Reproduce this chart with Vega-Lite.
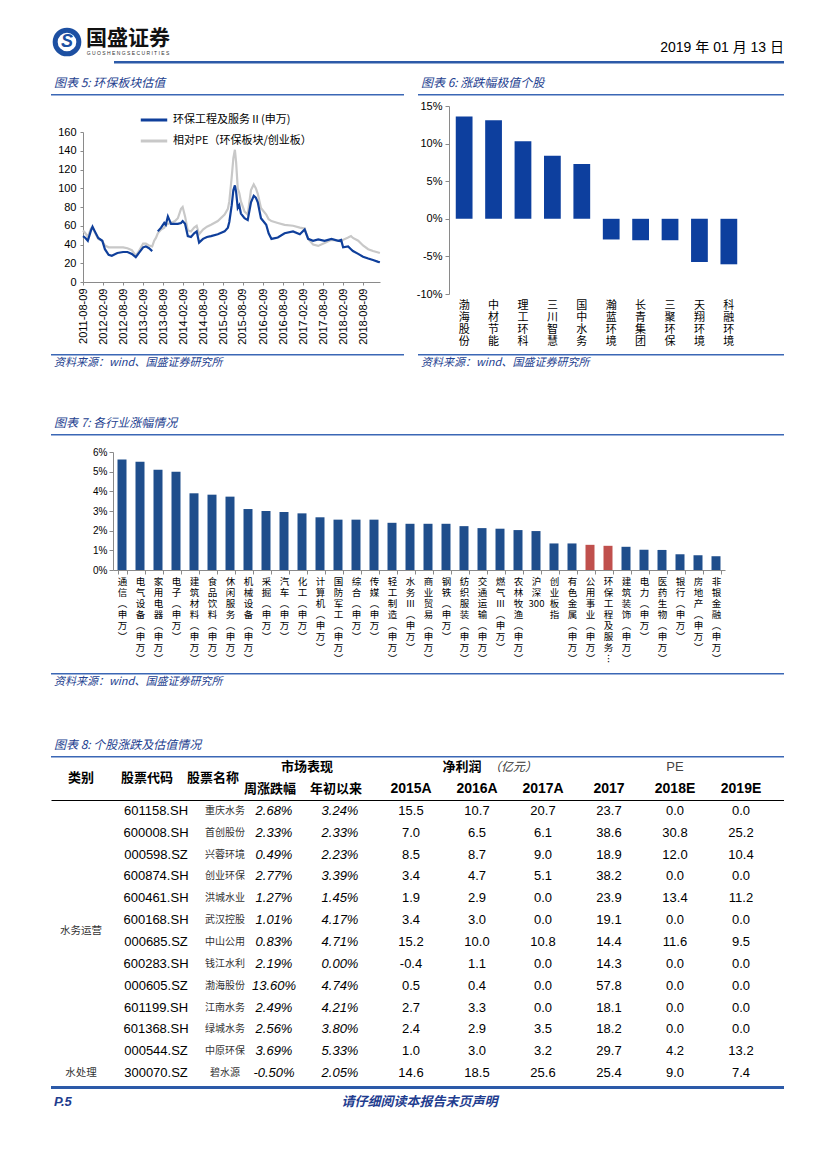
{
  "$schema": "https://vega.github.io/schema/vega-lite/v6.json",
  "padding": {"left": 45, "top": 20, "right": 0, "bottom": 0},
  "background": "white",
  "bounds": "flush",
  "spacing": 0,
  "config": {
    "view": {"stroke": null},
    "font": "Liberation Sans",
    "locale": {"number": {"decimal": ".", "thousands": ",", "grouping": [3], "currency": ["", ""], "minus": "-"}},
    "axis": {"grid": false, "labelColor": "#000", "domainColor": "#8a8a8a", "tickColor": "#8a8a8a", "labelFont": "Liberation Sans", "labelFontSize": 11, "labelOverlap": false, "labelFlush": false, "title": null},
    "title": {"font": "Noto Sans CJK SC", "fontSize": 12, "fontStyle": "italic", "fontWeight": "normal", "color": "#24418f", "anchor": "start", "offset": 4}
  },
  "vconcat": [
    {
      "hconcat": [
        {
          "width": 32, "height": 30,
          "data": {"values": [{"标志": "S"}]},
          "layer": [
            {"mark": {"type": "point", "shape": "circle", "size": 560, "filled": false, "stroke": "#1d50a2", "strokeWidth": 5, "opacity": 1}, "encoding": {}},
            {"mark": {"type": "text", "font": "Liberation Sans", "fontSize": 18, "fontWeight": "bold", "fontStyle": "italic", "color": "#1d50a2"}, "encoding": {"text": {"field": "标志"}}}
          ]
        },
        {
          "width": 90, "height": 30,
          "data": {"values": [{"中文": "国盛证券", "英文": "G U O S H E N G   S E C U R I T I E S"}]},
          "layer": [
            {"mark": {"type": "text", "font": "Noto Sans CJK SC", "fontSize": 21, "fontWeight": "bold", "color": "#111", "dy": -3}, "encoding": {"text": {"field": "中文"}}},
            {"mark": {"type": "text", "font": "Liberation Sans", "fontSize": 5, "color": "#333", "dy": 11}, "encoding": {"text": {"field": "英文"}}}
          ]
        }
      ],
      "spacing": 0, "bounds": "flush"
    },
    {"width": 1, "height": 34, "data": {"values": []}, "mark": "point"},
    {
      "hconcat": [
        {"width": 63, "height": 1, "data": {"values": []}, "mark": "point"},
        {"width": 670, "height": 2.5, "data": {"values": []}, "mark": "point", "view": {"fill": "#2c5aa8", "stroke": null},
         "title": {"text": "2019 年 01 月 13 日", "anchor": "end", "offset": 6, "font": "Liberation Sans, Noto Sans CJK SC", "fontSize": 14, "fontStyle": "normal", "color": "#000"}}
      ],
      "spacing": 0, "bounds": "flush"
    },
    {"width": 1, "height": 33, "data": {"values": []}, "mark": "point"},
    {
      "hconcat": [
        {"width": 353, "height": 1.5, "data": {"values": []}, "mark": "point", "view": {"fill": "#3b67b5", "stroke": null},
         "title": {"text": "图表 5:  环保板块估值", "dx": 3}},
        {"width": 14, "height": 1, "data": {"values": []}, "mark": "point"},
        {"width": 366, "height": 1.5, "data": {"values": []}, "mark": "point", "view": {"fill": "#3b67b5", "stroke": null},
         "title": {"text": "图表 6:  涨跌幅极值个股", "dx": 3}}
      ],
      "spacing": 0, "bounds": "flush"
    },
    {"width": 1, "height": 12, "data": {"values": []}, "mark": "point"},
    {
      "hconcat": [
        {"width": 398, "height": 1, "data": {"values": []}, "mark": "point"},
        {
          "width": 295, "height": 188,
          "data": {"values": [
            {"股票": "渤海股份", "涨跌幅": 13.6},
            {"股票": "中材节能", "涨跌幅": 13.1},
            {"股票": "理工环科", "涨跌幅": 10.3},
            {"股票": "三川智慧", "涨跌幅": 8.4},
            {"股票": "国中水务", "涨跌幅": 7.3},
            {"股票": "瀚蓝环境", "涨跌幅": -2.75},
            {"股票": "长青集团", "涨跌幅": -2.85},
            {"股票": "三聚环保", "涨跌幅": -2.85},
            {"股票": "天翔环境", "涨跌幅": -5.75},
            {"股票": "科融环境", "涨跌幅": -6.05}
          ]},
          "encoding": {
            "x": {"field": "股票", "type": "nominal", "sort": null, "scale": {"paddingInner": 0.43, "paddingOuter": 0.23},
                  "axis": {"domain": false, "ticks": false, "labelAngle": 0, "labelExpr": "split(datum.label, '')", "labelLineHeight": 12, "labelFont": "Noto Sans CJK SC", "labelFontSize": 11, "labelPadding": 5, "labelBaseline": "top"}},
            "y": {"field": "涨跌幅", "type": "quantitative", "scale": {"domain": [-10, 15], "nice": false},
                  "axis": {"values": [-10, -5, 0, 5, 10, 15], "labelExpr": "datum.value + '%'", "tickSize": 4, "labelPadding": 3}}
          },
          "layer": [
            {"mark": {"type": "bar", "color": "#0d3f9e"}},
            {"mark": {"type": "rule", "color": "#8a8a8a"}, "encoding": {"y": {"datum": 0}}}
          ]
        }
      ],
      "spacing": 0, "bounds": "flush"
    },
    {"width": 1, "height": 26, "data": {"values": []}, "mark": "point"},
    {
      "hconcat": [
        {"width": 32, "height": 1, "data": {"values": []}, "mark": "point"},
        {
          "width": 297, "height": 150,
          "data": {"values": [
            {"日期": "2011-08-09", "环保工程及服务Ⅱ(申万)": 49, "相对PE（环保板块/创业板）": 55},
            {"日期": "2011-08-31", "环保工程及服务Ⅱ(申万)": 47, "相对PE（环保板块/创业板）": 52},
            {"日期": "2011-09-22", "环保工程及服务Ⅱ(申万)": 44, "相对PE（环保板块/创业板）": 48},
            {"日期": "2011-10-21", "环保工程及服务Ⅱ(申万)": 55, "相对PE（环保板块/创业板）": 57},
            {"日期": "2011-11-04", "环保工程及服务Ⅱ(申万)": 59, "相对PE（环保板块/创业板）": 58},
            {"日期": "2011-11-25", "环保工程及服务Ⅱ(申万)": 54, "相对PE（环保板块/创业板）": 53},
            {"日期": "2011-12-26", "环保工程及服务Ⅱ(申万)": 47, "相对PE（环保板块/创业板）": 46},
            {"日期": "2012-02-01", "环保工程及服务Ⅱ(申万)": 44, "相对PE（环保板块/创业板）": 44},
            {"日期": "2012-02-25", "环保工程及服务Ⅱ(申万)": 35, "相对PE（环保板块/创业板）": 39},
            {"日期": "2012-03-30", "环保工程及服务Ⅱ(申万)": 29, "相对PE（环保板块/创业板）": 37},
            {"日期": "2012-04-28", "环保工程及服务Ⅱ(申万)": 28, "相对PE（环保板块/创业板）": 37},
            {"日期": "2012-06-18", "环保工程及服务Ⅱ(申万)": 31, "相对PE（环保板块/创业板）": 37},
            {"日期": "2012-08-09", "环保工程及服务Ⅱ(申万)": 32, "相对PE（环保板块/创业板）": 37},
            {"日期": "2012-09-18", "环保工程及服务Ⅱ(申万)": 32, "相对PE（环保板块/创业板）": 36},
            {"日期": "2012-10-28", "环保工程及服务Ⅱ(申万)": 30, "相对PE（环保板块/创业板）": 34},
            {"日期": "2012-12-03", "环保工程及服务Ⅱ(申万)": 26.5, "相对PE（环保板块/创业板）": 28},
            {"日期": "2013-01-01", "环保工程及服务Ⅱ(申万)": 31, "相对PE（环保板块/创业板）": 33},
            {"日期": "2013-02-08", "环保工程及服务Ⅱ(申万)": 37, "相对PE（环保板块/创业板）": 41},
            {"日期": "2013-03-05", "环保工程及服务Ⅱ(申万)": 38, "相对PE（环保板块/创业板）": 41},
            {"日期": "2013-04-03", "环保工程及服务Ⅱ(申万)": 36, "相对PE（环保板块/创业板）": 39},
            {"日期": "2013-05-02", "环保工程及服务Ⅱ(申万)": 33, "相对PE（环保板块/创业板）": 38},
            {"日期": "2013-05-20", "环保工程及服务Ⅱ(申万)": null, "相对PE（环保板块/创业板）": 44},
            {"日期": "2013-06-05", "环保工程及服务Ⅱ(申万)": null, "相对PE（环保板块/创业板）": 47},
            {"日期": "2013-06-22", "环保工程及服务Ⅱ(申万)": 54, "相对PE（环保板块/创业板）": 52},
            {"日期": "2013-07-22", "环保工程及服务Ⅱ(申万)": 58, "相对PE（环保板块/创业板）": 56},
            {"日期": "2013-08-20", "环保工程及服务Ⅱ(申万)": 63, "相对PE（环保板块/创业板）": 58},
            {"日期": "2013-09-03", "环保工程及服务Ⅱ(申万)": 61, "相对PE（环保板块/创业板）": 61},
            {"日期": "2013-09-22", "环保工程及服务Ⅱ(申万)": 70, "相对PE（环保板块/创业板）": 62},
            {"日期": "2013-10-21", "环保工程及服务Ⅱ(申万)": 62, "相对PE（环保板块/创业板）": 63},
            {"日期": "2013-11-26", "环保工程及服务Ⅱ(申万)": 62, "相对PE（环保板块/创业板）": 65},
            {"日期": "2013-12-22", "环保工程及服务Ⅱ(申万)": 62, "相对PE（环保板块/创业板）": 68},
            {"日期": "2014-01-20", "环保工程及服务Ⅱ(申万)": 63, "相对PE（环保板块/创业板）": 78},
            {"日期": "2014-02-04", "环保工程及服务Ⅱ(申万)": 65, "相对PE（环保板块/创业板）": 80},
            {"日期": "2014-02-26", "环保工程及服务Ⅱ(申万)": 62, "相对PE（环保板块/创业板）": 70},
            {"日期": "2014-03-23", "环保工程及服务Ⅱ(申万)": 49, "相对PE（环保板块/创业板）": 55},
            {"日期": "2014-04-21", "环保工程及服务Ⅱ(申万)": 48, "相对PE（环保板块/创业板）": 54},
            {"日期": "2014-05-20", "环保工程及服务Ⅱ(申万)": 52, "相对PE（环保板块/创业板）": 58},
            {"日期": "2014-06-12", "环保工程及服务Ⅱ(申万)": 54, "相对PE（环保板块/创业板）": 60},
            {"日期": "2014-07-04", "环保工程及服务Ⅱ(申万)": 42, "相对PE（环保板块/创业板）": 51},
            {"日期": "2014-08-09", "环保工程及服务Ⅱ(申万)": 46, "相对PE（环保板块/创业板）": 56},
            {"日期": "2014-09-14", "环保工程及服务Ⅱ(申万)": 48, "相对PE（环保板块/创业板）": 59},
            {"日期": "2014-10-21", "环保工程及服务Ⅱ(申万)": 49, "相对PE（环保板块/创业板）": 61},
            {"日期": "2014-12-22", "环保工程及服务Ⅱ(申万)": 51, "相对PE（环保板块/创业板）": 65},
            {"日期": "2015-02-22", "环保工程及服务Ⅱ(申万)": 54, "相对PE（环保板块/创业板）": 72},
            {"日期": "2015-03-24", "环保工程及服务Ⅱ(申万)": 58, "相对PE（环保板块/创业板）": 78},
            {"日期": "2015-04-06", "环保工程及服务Ⅱ(申万)": 64, "相对PE（环保板块/创业板）": 86},
            {"日期": "2015-04-28", "环保工程及服务Ⅱ(申万)": 82, "相对PE（环保板块/创业板）": 112},
            {"日期": "2015-05-13", "环保工程及服务Ⅱ(申万)": 98, "相对PE（环保板块/创业板）": 132},
            {"日期": "2015-05-27", "环保工程及服务Ⅱ(申万)": 103, "相对PE（环保板块/创业板）": 141},
            {"日期": "2015-06-07", "环保工程及服务Ⅱ(申万)": 96, "相对PE（环保板块/创业板）": 128},
            {"日期": "2015-06-22", "环保工程及服务Ⅱ(申万)": 79, "相对PE（环保板块/创业板）": 100},
            {"日期": "2015-07-06", "环保工程及服务Ⅱ(申万)": 82, "相对PE（环保板块/创业板）": 95},
            {"日期": "2015-07-21", "环保工程及服务Ⅱ(申万)": 73, "相对PE（环保板块/创业板）": 86},
            {"日期": "2015-08-23", "环保工程及服务Ⅱ(申万)": 68, "相对PE（环保板块/创业板）": 75},
            {"日期": "2015-09-21", "环保工程及服务Ⅱ(申万)": 66, "相对PE（环保板块/创业板）": 72},
            {"日期": "2015-10-21", "环保工程及服务Ⅱ(申万)": 85, "相对PE（环保板块/创业板）": 98},
            {"日期": "2015-11-15", "环保工程及服务Ⅱ(申万)": 92, "相对PE（环保板块/创业板）": 104},
            {"日期": "2015-12-04", "环保工程及服务Ⅱ(申万)": 90, "相对PE（环保板块/创业板）": 100},
            {"日期": "2015-12-22", "环保工程及服务Ⅱ(申万)": 85, "相对PE（环保板块/创业板）": 94},
            {"日期": "2016-01-20", "环保工程及服务Ⅱ(申万)": 68, "相对PE（环保板块/创业板）": 79},
            {"日期": "2016-03-08", "环保工程及服务Ⅱ(申万)": 61, "相对PE（环保板块/创业板）": 72},
            {"日期": "2016-03-30", "环保工程及服务Ⅱ(申万)": 52, "相对PE（环保板块/创业板）": 67},
            {"日期": "2016-04-25", "环保工程及服务Ⅱ(申万)": 46, "相对PE（环保板块/创业板）": 65},
            {"日期": "2016-06-22", "环保工程及服务Ⅱ(申万)": 47.5, "相对PE（环保板块/创业板）": 63},
            {"日期": "2016-08-23", "环保工程及服务Ⅱ(申万)": 52, "相对PE（环保板块/创业板）": 61},
            {"日期": "2016-11-08", "环保工程及服务Ⅱ(申万)": 54, "相对PE（环保板块/创业板）": 60},
            {"日期": "2017-01-09", "环保工程及服务Ⅱ(申万)": 51, "相对PE（环保板块/创业板）": 58},
            {"日期": "2017-02-22", "环保工程及服务Ⅱ(申万)": 56, "相对PE（环保板块/创业板）": 57},
            {"日期": "2017-03-26", "环保工程及服务Ⅱ(申万)": 46, "相对PE（环保板块/创业板）": 46},
            {"日期": "2017-05-10", "环保工程及服务Ⅱ(申万)": 44, "相对PE（环保板块/创业板）": 40},
            {"日期": "2017-06-26", "环保工程及服务Ⅱ(申万)": 45.5, "相对PE（环保板块/创业板）": 38.5},
            {"日期": "2017-08-23", "环保工程及服务Ⅱ(申万)": 44, "相对PE（环保板块/创业板）": 41.5},
            {"日期": "2017-10-25", "环保工程及服务Ⅱ(申万)": 46, "相对PE（环保板块/创业板）": 45},
            {"日期": "2017-12-26", "环保工程及服务Ⅱ(申万)": 44, "相对PE（环保板块/创业板）": 44},
            {"日期": "2018-01-21", "环保工程及服务Ⅱ(申万)": 45, "相对PE（环保板块/创业板）": 43},
            {"日期": "2018-02-08", "环保工程及服务Ⅱ(申万)": 37, "相对PE（环保板块/创业板）": 45},
            {"日期": "2018-03-26", "环保工程及服务Ⅱ(申万)": 38, "相对PE（环保板块/创业板）": 47.5},
            {"日期": "2018-04-21", "环保工程及服务Ⅱ(申万)": 35, "相对PE（环保板块/创业板）": 49},
            {"日期": "2018-05-09", "环保工程及服务Ⅱ(申万)": 33, "相对PE（环保板块/创业板）": 47},
            {"日期": "2018-06-26", "环保工程及服务Ⅱ(申万)": 30, "相对PE（环保板块/创业板）": 44},
            {"日期": "2018-08-09", "环保工程及服务Ⅱ(申万)": 27, "相对PE（环保板块/创业板）": 39},
            {"日期": "2018-09-25", "环保工程及服务Ⅱ(申万)": 25, "相对PE（环保板块/创业板）": 35},
            {"日期": "2018-11-08", "环保工程及服务Ⅱ(申万)": 23.5, "相对PE（环保板块/创业板）": 33},
            {"日期": "2018-12-26", "环保工程及服务Ⅱ(申万)": 21.5, "相对PE（环保板块/创业板）": 31.5},
            {"日期": "2019-01-10", "环保工程及服务Ⅱ(申万)": 21, "相对PE（环保板块/创业板）": 31}
          ]},
          "transform": [{"fold": ["环保工程及服务Ⅱ(申万)", "相对PE（环保板块/创业板）"], "as": ["系列", "值"]}],
          "encoding": {
            "x": {"field": "日期", "type": "temporal",
                  "scale": {"type": "utc", "domain": [{"year": 2011, "month": 8, "date": 9, "utc": true}, {"year": 2019, "month": 1, "date": 11, "utc": true}]},
                  "axis": {"values": [
                    {"year": 2011, "month": 8, "date": 9, "utc": true}, {"year": 2012, "month": 2, "date": 9, "utc": true},
                    {"year": 2012, "month": 8, "date": 9, "utc": true}, {"year": 2013, "month": 2, "date": 9, "utc": true},
                    {"year": 2013, "month": 8, "date": 9, "utc": true}, {"year": 2014, "month": 2, "date": 9, "utc": true},
                    {"year": 2014, "month": 8, "date": 9, "utc": true}, {"year": 2015, "month": 2, "date": 9, "utc": true},
                    {"year": 2015, "month": 8, "date": 9, "utc": true}, {"year": 2016, "month": 2, "date": 9, "utc": true},
                    {"year": 2016, "month": 8, "date": 9, "utc": true}, {"year": 2017, "month": 2, "date": 9, "utc": true},
                    {"year": 2017, "month": 8, "date": 9, "utc": true}, {"year": 2018, "month": 2, "date": 9, "utc": true},
                    {"year": 2018, "month": 8, "date": 9, "utc": true}],
                    "labelExpr": "utcFormat(datum.value, '%Y-%m-%d')", "labelAngle": 270, "tickSize": 3, "labelPadding": 3}},
            "y": {"field": "值", "type": "quantitative", "scale": {"domain": [0, 160], "nice": false},
                  "axis": {"values": [0, 20, 40, 60, 80, 100, 120, 140, 160], "tickSize": 3, "labelPadding": 4}},
            "color": {"field": "系列", "type": "nominal",
                      "scale": {"domain": ["环保工程及服务Ⅱ(申万)", "相对PE（环保板块/创业板）"], "range": ["#0f3f9b", "#c8c8c8"]},
                      "legend": {"orient": "none", "legendX": 88, "legendY": 78, "direction": "vertical", "title": null, "symbolType": "stroke", "symbolSize": 700, "symbolStrokeWidth": 3, "labelFont": "Noto Sans CJK SC", "labelFontSize": 11, "labelColor": "#000", "rowPadding": -14, "padding": 0, "labelLimit": 300}}
          },
          "layer": [
            {"transform": [{"filter": "datum['系列'] == '相对PE（环保板块/创业板）'"}], "mark": {"type": "line", "strokeWidth": 2.2}},
            {"transform": [{"filter": "datum['系列'] == '环保工程及服务Ⅱ(申万)'"}], "mark": {"type": "line", "strokeWidth": 2.2}}
          ]
        }
      ],
      "spacing": 0, "bounds": "flush"
    },
    {"width": 1, "height": 222, "data": {"values": []}, "mark": "point"},
    {
      "hconcat": [
        {"width": 353, "height": 1.5, "data": {"values": []}, "mark": "point", "view": {"fill": "#3b67b5", "stroke": null},
         "title": {"text": "资料来源：wind、国盛证券研究所", "orient": "bottom", "offset": 1, "dx": 3, "fontSize": 11}},
        {"width": 14, "height": 1, "data": {"values": []}, "mark": "point"},
        {"width": 366, "height": 1.5, "data": {"values": []}, "mark": "point", "view": {"fill": "#3b67b5", "stroke": null},
         "title": {"text": "资料来源：wind、国盛证券研究所", "orient": "bottom", "offset": 1, "dx": 3, "fontSize": 11}}
      ],
      "spacing": 0, "bounds": "flush"
    },
    {"width": 1, "height": 80, "data": {"values": []}, "mark": "point"},
    {"width": 733, "height": 1.5, "data": {"values": []}, "mark": "point", "view": {"fill": "#3b67b5", "stroke": null},
     "title": {"text": "图表 7:  各行业涨幅情况", "dx": 3}},
    {"width": 1, "height": 15.5, "data": {"values": []}, "mark": "point"},
    {
      "hconcat": [
        {"width": 62, "height": 1, "data": {"values": []}, "mark": "point"},
        {
          "width": 612, "height": 118,
          "data": {"values": [
            {"行业": "通信(申万)", "涨幅": 5.62},
            {"行业": "电气设备(申万)", "涨幅": 5.5},
            {"行业": "家用电器(申万)", "涨幅": 5.1},
            {"行业": "电子(申万)", "涨幅": 5.0},
            {"行业": "建筑材料(申万)", "涨幅": 3.9},
            {"行业": "食品饮料(申万)", "涨幅": 3.83},
            {"行业": "休闲服务(申万)", "涨幅": 3.73},
            {"行业": "机械设备(申万)", "涨幅": 3.1},
            {"行业": "采掘(申万)", "涨幅": 3.0},
            {"行业": "汽车(申万)", "涨幅": 2.95},
            {"行业": "化工(申万)", "涨幅": 2.88},
            {"行业": "计算机(申万)", "涨幅": 2.68},
            {"行业": "国防军工(申万)", "涨幅": 2.56},
            {"行业": "综合(申万)", "涨幅": 2.56},
            {"行业": "传媒(申万)", "涨幅": 2.56},
            {"行业": "轻工制造(申万)", "涨幅": 2.4},
            {"行业": "水务Ⅲ(申万)", "涨幅": 2.35},
            {"行业": "商业贸易(申万)", "涨幅": 2.35},
            {"行业": "钢铁(申万)", "涨幅": 2.35},
            {"行业": "纺织服装(申万)", "涨幅": 2.23},
            {"行业": "交通运输(申万)", "涨幅": 2.13},
            {"行业": "燃气Ⅲ(申万)", "涨幅": 2.1},
            {"行业": "农林牧渔(申万)", "涨幅": 2.03},
            {"行业": "沪深300", "涨幅": 1.98},
            {"行业": "创业板指", "涨幅": 1.35},
            {"行业": "有色金属(申万)", "涨幅": 1.35},
            {"行业": "公用事业(申万)", "涨幅": 1.28},
            {"行业": "环保工程及服务Ⅱ(申万)", "涨幅": 1.23},
            {"行业": "建筑装饰(申万)", "涨幅": 1.18},
            {"行业": "电力(申万)", "涨幅": 1.03},
            {"行业": "医药生物(申万)", "涨幅": 1.02},
            {"行业": "银行(申万)", "涨幅": 0.8},
            {"行业": "房地产(申万)", "涨幅": 0.75},
            {"行业": "非银金融(申万)", "涨幅": 0.7}
          ]},
          "mark": {"type": "bar"},
          "encoding": {
            "x": {"field": "行业", "type": "nominal", "sort": null, "scale": {"paddingInner": 0.5, "paddingOuter": 0.25},
                  "axis": {"tickBand": "extent", "tickSize": 4, "labelAngle": 0, "labelBaseline": "top", "labelFont": "Noto Sans CJK SC", "labelFontSize": 9.5, "labelLineHeight": 11, "labelPadding": 2,
                           "labelExpr": "datum.label == '沪深300' ? ['沪', '深', '300'] : split(replace(replace(length(datum.label) > 9 ? substring(datum.label, 0, 7) + '︙' : datum.label, '(', '︵'), ')', '︶'), '')"}},
            "y": {"field": "涨幅", "type": "quantitative", "scale": {"domain": [0, 6], "nice": false},
                  "axis": {"values": [0, 1, 2, 3, 4, 5, 6], "labelExpr": "datum.value + '%'", "labelFontSize": 10, "tickSize": 4, "labelPadding": 2}},
            "color": {"condition": {"test": "datum['行业'] == '公用事业(申万)' || datum['行业'] == '环保工程及服务Ⅱ(申万)'", "value": "#c0504d"}, "value": "#1f4e8c"}
          }
        }
      ],
      "spacing": 0, "bounds": "flush"
    },
    {"width": 1, "height": 221, "data": {"values": []}, "mark": "point"},
    {"width": 733, "height": 1.5, "data": {"values": []}, "mark": "point", "view": {"fill": "#3b67b5", "stroke": null},
     "title": {"text": "资料来源：wind、国盛证券研究所", "orient": "bottom", "offset": 1, "dx": 3, "fontSize": 11}},
    {"width": 1, "height": 80.5, "data": {"values": []}, "mark": "point"},
    {"width": 733, "height": 1.5, "data": {"values": []}, "mark": "point", "view": {"fill": "#3b67b5", "stroke": null},
     "title": {"text": "图表 8:  个股涨跌及估值情况", "dx": 3}},
    {"width": 1, "height": 3.5, "data": {"values": []}, "mark": "point"},
    {
      "width": 733, "height": 38,
      "data": {"values": [
        {"列": "类别", "层": "中", "文字": "类别"},
        {"列": "股票代码", "层": "中", "文字": "股票代码"},
        {"列": "股票名称", "层": "中", "文字": "股票名称"},
        {"列": "周涨跌幅", "层": "上", "文字": "市场表现"},
        {"列": "周涨跌幅", "层": "下", "文字": "周涨跌幅"},
        {"列": "年初以来", "层": "下", "文字": "年初以来"},
        {"列": "2016A", "层": "上", "文字": "净利润"},
        {"列": "2016A", "层": "上", "文字": "（亿元）"},
        {"列": "2018E", "层": "上", "文字": "PE"},
        {"列": "2015A", "层": "下", "文字": "2015A"},
        {"列": "2016A", "层": "下", "文字": "2016A"},
        {"列": "2017A", "层": "下", "文字": "2017A"},
        {"列": "2017", "层": "下", "文字": "2017"},
        {"列": "2018E", "层": "下", "文字": "2018E"},
        {"列": "2019E", "层": "下", "文字": "2019E"}
      ]},
      "encoding": {
        "x": {"field": "列", "type": "nominal", "scale": {"type": "point", "domain": ["类别", "股票代码", "股票名称", "周涨跌幅", "年初以来", "2015A", "2016A", "2017A", "2017", "2018E", "2019E"], "padding": 0.553, "align": 0.411}, "axis": null},
        "y": {"field": "层", "type": "nominal", "scale": {"type": "point", "domain": ["上", "中", "下"], "padding": 0.727, "align": 0.3125}, "axis": null},
        "text": {"field": "文字"}
      },
      "layer": [
        {"transform": [{"filter": {"field": "文字", "oneOf": ["类别", "股票代码", "股票名称"]}}], "mark": {"type": "text", "font": "Noto Sans CJK SC", "fontSize": 13, "fontWeight": "bold", "color": "#000"}},
        {"transform": [{"filter": {"field": "文字", "equal": "市场表现"}}], "mark": {"type": "text", "font": "Noto Sans CJK SC", "fontSize": 13, "fontWeight": "bold", "color": "#000", "dx": 28}},
        {"transform": [{"filter": {"field": "文字", "oneOf": ["周涨跌幅", "年初以来"]}}], "mark": {"type": "text", "font": "Noto Sans CJK SC", "fontSize": 13, "fontWeight": "bold", "color": "#000", "dx": -9}},
        {"transform": [{"filter": {"field": "文字", "oneOf": ["2015A", "2016A", "2017A", "2017", "2018E", "2019E"]}}], "mark": {"type": "text", "font": "Liberation Sans", "fontSize": 14, "fontWeight": "bold", "color": "#000"}},
        {"transform": [{"filter": {"field": "文字", "equal": "净利润"}}], "mark": {"type": "text", "font": "Noto Sans CJK SC", "fontSize": 13, "fontWeight": "bold", "color": "#000", "dx": -15}},
        {"transform": [{"filter": {"field": "文字", "equal": "（亿元）"}}], "mark": {"type": "text", "font": "Noto Sans CJK SC", "fontSize": 12, "fontStyle": "italic", "color": "#333", "dx": 36}},
        {"transform": [{"filter": {"field": "文字", "equal": "PE"}}], "mark": {"type": "text", "font": "Liberation Sans", "fontSize": 13, "color": "#444"}}
      ]
    },
    {
      "width": 733, "height": 284,
      "data": {"values": [
        {"序号": 1, "类别": "水务运营", "股票代码": "601158.SH", "股票名称": "重庆水务", "周涨跌幅": 0.0268, "年初以来": 0.0324, "2015A": 15.5, "2016A": 10.7, "2017A": 20.7, "2017": 23.7, "2018E": 0.0, "2019E": 0.0},
        {"序号": 2, "类别": "水务运营", "股票代码": "600008.SH", "股票名称": "首创股份", "周涨跌幅": 0.0233, "年初以来": 0.0233, "2015A": 7.0, "2016A": 6.5, "2017A": 6.1, "2017": 38.6, "2018E": 30.8, "2019E": 25.2},
        {"序号": 3, "类别": "水务运营", "股票代码": "000598.SZ", "股票名称": "兴蓉环境", "周涨跌幅": 0.0049, "年初以来": 0.0223, "2015A": 8.5, "2016A": 8.7, "2017A": 9.0, "2017": 18.9, "2018E": 12.0, "2019E": 10.4},
        {"序号": 4, "类别": "水务运营", "股票代码": "600874.SH", "股票名称": "创业环保", "周涨跌幅": 0.0277, "年初以来": 0.0339, "2015A": 3.4, "2016A": 4.7, "2017A": 5.1, "2017": 38.2, "2018E": 0.0, "2019E": 0.0},
        {"序号": 5, "类别": "水务运营", "股票代码": "600461.SH", "股票名称": "洪城水业", "周涨跌幅": 0.0127, "年初以来": 0.0145, "2015A": 1.9, "2016A": 2.9, "2017A": 0.0, "2017": 23.9, "2018E": 13.4, "2019E": 11.2},
        {"序号": 6, "类别": "水务运营", "股票代码": "600168.SH", "股票名称": "武汉控股", "周涨跌幅": 0.0101, "年初以来": 0.0417, "2015A": 3.4, "2016A": 3.0, "2017A": 0.0, "2017": 19.1, "2018E": 0.0, "2019E": 0.0},
        {"序号": 7, "类别": "水务运营", "股票代码": "000685.SZ", "股票名称": "中山公用", "周涨跌幅": 0.0083, "年初以来": 0.0471, "2015A": 15.2, "2016A": 10.0, "2017A": 10.8, "2017": 14.4, "2018E": 11.6, "2019E": 9.5},
        {"序号": 8, "类别": "水务运营", "股票代码": "600283.SH", "股票名称": "钱江水利", "周涨跌幅": 0.0219, "年初以来": 0.0, "2015A": -0.4, "2016A": 1.1, "2017A": 0.0, "2017": 14.3, "2018E": 0.0, "2019E": 0.0},
        {"序号": 9, "类别": "水务运营", "股票代码": "000605.SZ", "股票名称": "渤海股份", "周涨跌幅": 0.136, "年初以来": 0.0474, "2015A": 0.5, "2016A": 0.4, "2017A": 0.0, "2017": 57.8, "2018E": 0.0, "2019E": 0.0},
        {"序号": 10, "类别": "水务运营", "股票代码": "601199.SH", "股票名称": "江南水务", "周涨跌幅": 0.0249, "年初以来": 0.0421, "2015A": 2.7, "2016A": 3.3, "2017A": 0.0, "2017": 18.1, "2018E": 0.0, "2019E": 0.0},
        {"序号": 11, "类别": "水务运营", "股票代码": "601368.SH", "股票名称": "绿城水务", "周涨跌幅": 0.0256, "年初以来": 0.038, "2015A": 2.4, "2016A": 2.9, "2017A": 3.5, "2017": 18.2, "2018E": 0.0, "2019E": 0.0},
        {"序号": 12, "类别": "水务运营", "股票代码": "000544.SZ", "股票名称": "中原环保", "周涨跌幅": 0.0369, "年初以来": 0.0533, "2015A": 1.0, "2016A": 3.0, "2017A": 3.2, "2017": 29.7, "2018E": 4.2, "2019E": 13.2},
        {"序号": 13, "类别": "水处理", "股票代码": "300070.SZ", "股票名称": "碧水源", "周涨跌幅": -0.005, "年初以来": 0.0205, "2015A": 14.6, "2016A": 18.5, "2017A": 25.6, "2017": 25.4, "2018E": 9.0, "2019E": 7.4}
      ]},
      "layer": [
        {"mark": {"type": "text", "font": "Liberation Sans", "fontSize": 13, "color": "#000", "dx": 9},
         "encoding": {
           "x": {"datum": "股票代码", "type": "nominal", "scale": {"type": "point", "domain": ["类别", "股票代码", "股票名称", "周涨跌幅", "年初以来", "2015A", "2016A", "2017A", "2017", "2018E", "2019E"], "padding": 0.553, "align": 0.411}, "axis": {"orient": "top", "labels": false, "ticks": false, "domain": true, "domainColor": "#000", "domainWidth": 1, "title": null}},
           "y": {"field": "序号", "type": "quantitative", "scale": {"domain": [0.5, 13.5], "reverse": true, "nice": false, "zero": false}, "axis": null},
           "text": {"field": "股票代码"}}},
        {"mark": {"type": "text", "font": "Noto Sans CJK SC", "fontSize": 10, "color": "#333", "dx": 12},
         "encoding": {
           "x": {"datum": "股票名称", "type": "nominal"},
           "y": {"field": "序号", "type": "quantitative"},
           "text": {"field": "股票名称"}}},
        {"transform": [{"fold": ["周涨跌幅", "年初以来"], "as": ["列", "值"]}],
         "mark": {"type": "text", "font": "Liberation Sans", "fontSize": 13, "fontStyle": "italic", "color": "#000", "dx": -5},
         "encoding": {
           "x": {"field": "列", "type": "nominal"},
           "y": {"field": "序号", "type": "quantitative"},
           "text": {"field": "值", "type": "quantitative", "format": ".2%"}}},
        {"transform": [{"fold": ["2015A", "2016A", "2017A", "2017", "2018E", "2019E"], "as": ["列", "值"]}],
         "mark": {"type": "text", "font": "Liberation Sans", "fontSize": 13, "color": "#000"},
         "encoding": {
           "x": {"field": "列", "type": "nominal"},
           "y": {"field": "序号", "type": "quantitative"},
           "text": {"field": "值", "type": "quantitative", "format": ".1f"}}},
        {"mark": {"type": "text", "font": "Noto Sans CJK SC", "fontSize": 10.5, "color": "#333"},
         "encoding": {
           "x": {"datum": "类别", "type": "nominal"},
           "y": {"aggregate": "mean", "field": "序号", "type": "quantitative"},
           "text": {"field": "类别"}}}
      ]
    },
    {"width": 1, "height": 2, "data": {"values": []}, "mark": "point"},
    {
      "hconcat": [
        {"width": 40, "height": 3, "data": {"values": []}, "mark": "point", "view": {"fill": "#2c5aa8", "stroke": null},
         "title": {"text": "P.5", "orient": "bottom", "offset": 7, "dx": 3, "font": "Liberation Sans", "fontSize": 13, "fontWeight": "bold", "fontStyle": "italic", "color": "#1f3d8f"}},
        {"width": 693, "height": 3, "data": {"values": []}, "mark": "point", "view": {"fill": "#2c5aa8", "stroke": null},
         "title": {"text": "请仔细阅读本报告末页声明", "orient": "bottom", "anchor": "middle", "offset": 7, "dx": -18, "font": "Noto Sans CJK SC", "fontSize": 13, "fontWeight": "bold", "fontStyle": "italic", "color": "#1f3d8f"}}
      ],
      "spacing": 0, "bounds": "flush"
    },
    {"width": 1, "height": 84, "data": {"values": []}, "mark": "point"}
  ]
}
